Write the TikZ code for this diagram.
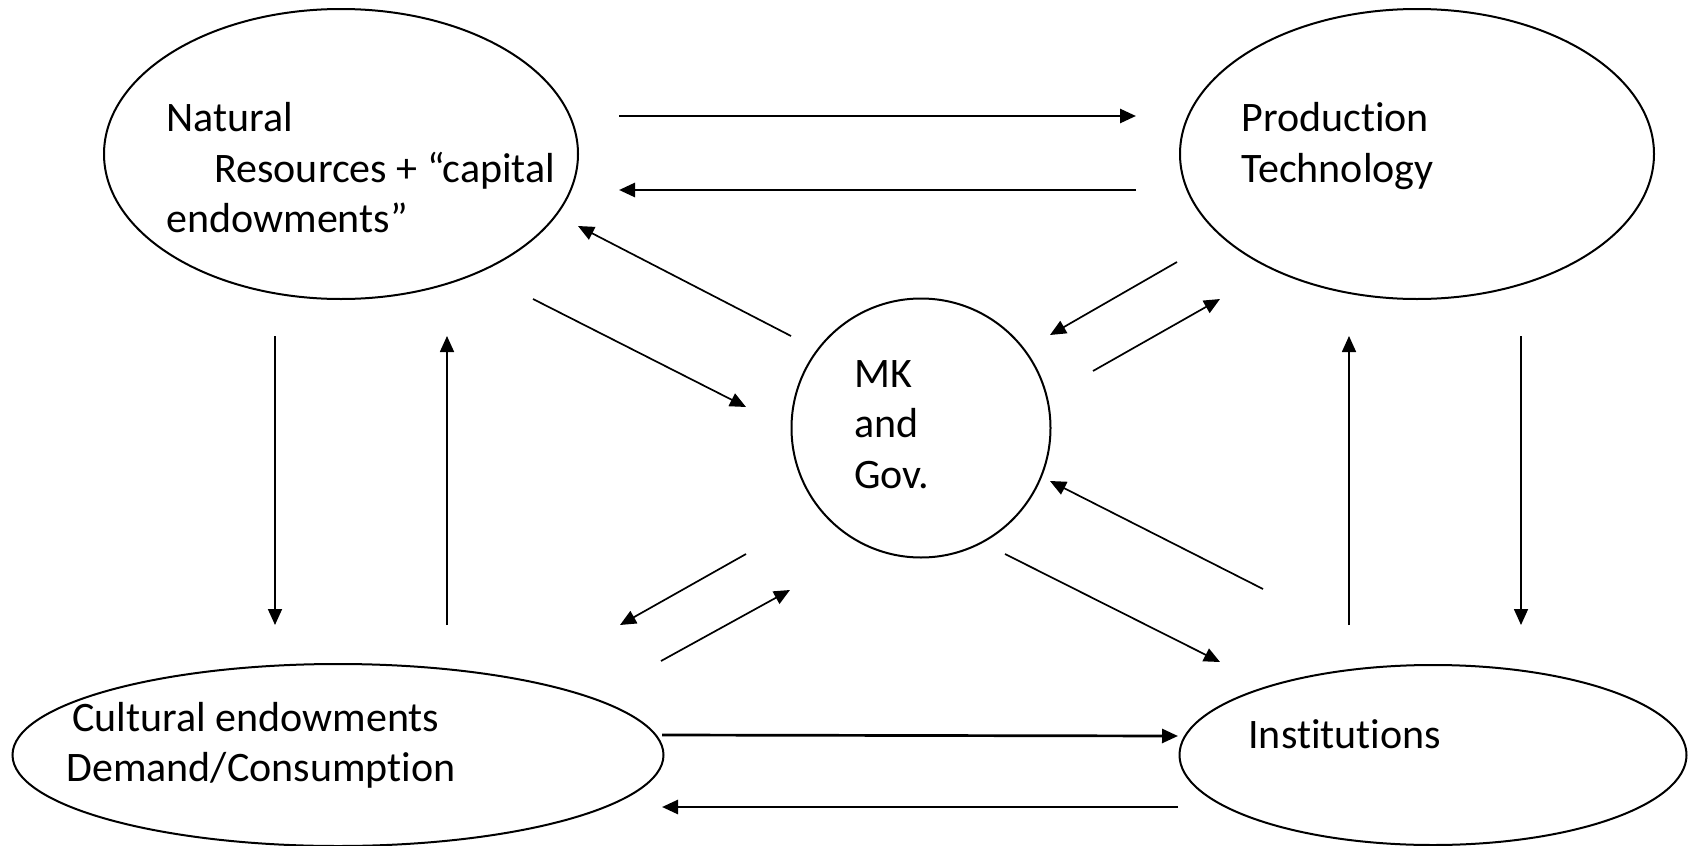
\documentclass[tikz,border=0pt]{standalone}
\usepackage{fontspec}
\setmainfont{Carlito}[RawFeature={-liga;-clig}]
\usetikzlibrary{shapes.geometric,arrows.meta}
\begin{document}
\begin{tikzpicture}[x=0.5pt,y=-0.5pt,
  bubble/.style={draw,ellipse,line width=1pt,inner sep=0pt},
  txt/.style={anchor=base west,inner sep=0pt,font=\fontsize{21}{25}\selectfont},
  thinarrow/.style={line width=0.85pt,-{Triangle[length=8pt,width=7pt]}},
  thickarrow/.style={line width=1.35pt,-{Triangle[length=8pt,width=7pt]}}]
\useasboundingbox (0,0) rectangle (1688,846);
% bubbles
\node[bubble,minimum width=237pt,minimum height=145pt] (NR) at (341,154) {};
\node[bubble,minimum width=237pt,minimum height=145pt] (PT) at (1417,154) {};
\node[bubble,circle,minimum size=129.5pt] (MK) at (921,428) {};
\node[bubble,minimum width=325.5pt,minimum height=91pt] (CE) at (338,755) {};
\node[bubble,minimum width=253.5pt,minimum height=90pt] (IN) at (1433,755) {};
% texts
\node[txt] (nr1) at (166,131) {Natural};
\node[txt] (nr2) at (214,182) {Resources + “capital};
\node[txt] (nr3) at (166,232) {endowments”};
\node[txt] (pt1) at (1241,131) {Production};
\node[txt] (pt2) at (1241,182) {Technology};
\node[txt] (mk1) at (854,387) {MK};
\node[txt] (mk2) at (854,437) {and};
\node[txt] (mk3) at (854,488) {Gov.};
\node[txt] (ce1) at (72,731) {Cultural endowments};
\node[txt] (ce2) at (66,781) {Demand/Consumption};
\node[txt] (in1) at (1248,748) {Institutions};
% connector ends
\coordinate (a1s) at (619,116);  \coordinate (a1e) at (1136,116);
\coordinate (a2s) at (1136,190); \coordinate (a2e) at (619,190);
\coordinate (a3s) at (791,336);  \coordinate (a3e) at (578,226);
\coordinate (a4s) at (533,299);  \coordinate (a4e) at (746,407);
\coordinate (a5s) at (1177,262); \coordinate (a5e) at (1050,335);
\coordinate (a6s) at (1093,371); \coordinate (a6e) at (1220,299);
\coordinate (a7s) at (275,336);  \coordinate (a7e) at (275,625);
\coordinate (a8s) at (447,625);  \coordinate (a8e) at (447,336);
\coordinate (a9s) at (1521,336); \coordinate (a9e) at (1521,625);
\coordinate (a10s) at (1349,625);\coordinate (a10e) at (1349,336);
\coordinate (a11s) at (746,554); \coordinate (a11e) at (620,625);
\coordinate (a12s) at (661,661); \coordinate (a12e) at (790,590);
\coordinate (a13s) at (1263,589);\coordinate (a13e) at (1050,481);
\coordinate (a14s) at (1005,554);\coordinate (a14e) at (1220,662);
\coordinate (a15s) at (662,735); \coordinate (a15e) at (1178,736);
\coordinate (a16s) at (1178,807);\coordinate (a16e) at (662,807);
% connectors
\draw[thickarrow] (a1s) -- (a1e);
\draw[thickarrow] (a2s) -- (a2e);
\draw[thinarrow] (a3s) -- (a3e);
\draw[thinarrow] (a4s) -- (a4e);
\draw[thinarrow] (a5s) -- (a5e);
\draw[thinarrow] (a6s) -- (a6e);
\draw[thinarrow] (a7s) -- (a7e);
\draw[thinarrow] (a8s) -- (a8e);
\draw[thinarrow] (a9s) -- (a9e);
\draw[thinarrow] (a10s) -- (a10e);
\draw[thinarrow] (a11s) -- (a11e);
\draw[thinarrow] (a12s) -- (a12e);
\draw[thinarrow] (a13s) -- (a13e);
\draw[thinarrow] (a14s) -- (a14e);
\draw[thickarrow] (a15s) -- (a15e);
\draw[thickarrow] (a16s) -- (a16e);
\end{tikzpicture}
\end{document}
